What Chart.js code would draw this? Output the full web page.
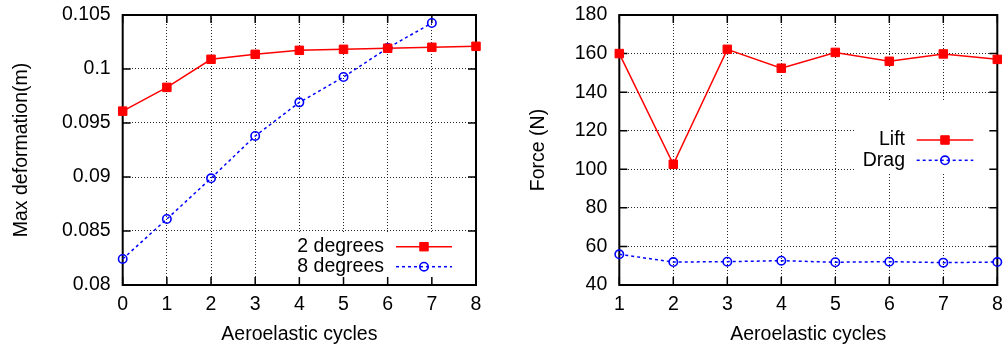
<!DOCTYPE html>
<html><head><meta charset="utf-8">
<script src="https://cdn.jsdelivr.net/npm/chart.js@4"></script>
<style>
html,body{margin:0;padding:0;background:#fff;}
#wrap{position:relative;width:1008px;height:349px;overflow:hidden;}
#c1{position:absolute;left:0;top:0;}
#c2{position:absolute;left:500px;top:0;}
</style></head><body>
<div id="wrap"><canvas id="c1" width="500" height="349"></canvas><canvas id="c2" width="508" height="349"></canvas></div>
<script>
// ---- Left chart data ----
const cyclesL = [0, 1, 2, 3, 4, 5, 6, 7, 8];
const deg2 = [0.0961, 0.0983, 0.1009, 0.10136, 0.10173, 0.10182, 0.10192, 0.10201, 0.1021];
const cycles8 = [0, 1, 2, 3, 4, 5, 6, 7];
const deg8 = [0.08241, 0.08611, 0.08988, 0.0938, 0.09691, 0.09926, 0.10194, 0.10426];
const xTicksL = ['0', '1', '2', '3', '4', '5', '6', '7', '8'];
const yTicksL = ['0.08', '0.085', '0.09', '0.095', '0.1', '0.105'];
const seriesNamesL = ['2 degrees', '8 degrees'];

// ---- Right chart data ----
const cyclesR = [1, 2, 3, 4, 5, 6, 7, 8];
const lift = [160.0, 102.6, 162.2, 152.4, 160.6, 156.0, 159.8, 157.0];
const drag = [55.9, 51.9, 52.1, 52.6, 51.8, 52.1, 51.6, 51.9];
const xTicksR = ['1', '2', '3', '4', '5', '6', '7', '8'];
const yTicksR = ['40', '60', '80', '100', '120', '140', '160', '180'];
const seriesNamesR = ['Lift', 'Drag'];

const FONT = 'Liberation Sans, Arial, Helvetica, sans-serif';
const FS = 19.5;
const RED = '#ff0000', BLUE = '#0000ff';

const pts = (xs, ys) => xs.map((x, i) => ({x: x, y: ys[i]}));

function redSet(label, data) {
  return {label, data, borderColor: RED, backgroundColor: RED, borderWidth: 1.5,
    pointStyle: 'rect', pointRadius: 6, pointBorderWidth: 1, pointBorderColor: RED,
    pointBackgroundColor: RED, tension: 0, clip: false, fill: false};
}
function blueSet(label, data) {
  return {label, data, borderColor: BLUE, backgroundColor: 'rgba(0,0,0,0)', borderWidth: 1.5,
    borderDash: [3, 3], pointStyle: 'circle', pointRadius: 4.2, pointBorderWidth: 1.6,
    pointBorderColor: BLUE, pointBackgroundColor: 'rgba(0,0,0,0)', tension: 0, clip: false, fill: false};
}

const framePlugin = {
  id: 'frame',
  beforeDatasetsDraw(chart, args, opts) {
    const ctx = chart.ctx, a = chart.chartArea;
    const xs = chart.scales.x, ys = chart.scales.y;
    ctx.save();
    const b = opts.box;
    ctx.fillStyle = '#fff';
    ctx.fillRect(b[0], b[1], b[2] - b[0], b[3] - b[1]);
    const L = 8;
    ctx.strokeStyle = '#000';
    ctx.lineWidth = 1.5;
    ctx.beginPath();
    xs.ticks.forEach(t => {
      const px = xs.getPixelForValue(t.value);
      ctx.moveTo(px, a.bottom); ctx.lineTo(px, a.bottom - L);
      ctx.moveTo(px, a.top); ctx.lineTo(px, a.top + L);
    });
    ys.ticks.forEach(t => {
      const py = ys.getPixelForValue(t.value);
      ctx.moveTo(a.left, py); ctx.lineTo(a.left + L, py);
      ctx.moveTo(a.right, py); ctx.lineTo(a.right - L, py);
    });
    ctx.stroke();
    ctx.lineWidth = 2;
    ctx.strokeRect(a.left, a.top, a.right - a.left, a.bottom - a.top);
    ctx.font = FS + 'px ' + FONT;
    ctx.textAlign = 'right';
    ctx.textBaseline = 'middle';
    opts.items.forEach((it, i) => {
      const ds = chart.data.datasets[i];
      ctx.fillStyle = '#000';
      ctx.fillText(ds.label, opts.textRight, it);
      ctx.save();
      ctx.strokeStyle = ds.borderColor;
      ctx.lineWidth = ds.borderWidth;
      ctx.setLineDash(ds.borderDash || []);
      ctx.beginPath();
      ctx.moveTo(opts.lineX1, it); ctx.lineTo(opts.lineX2, it);
      ctx.stroke();
      ctx.restore();
      ctx.save();
      ctx.strokeStyle = ds.pointBorderColor;
      ctx.fillStyle = ds.pointBackgroundColor;
      ctx.lineWidth = ds.pointBorderWidth;
      Chart.helpers.drawPoint(ctx, {pointStyle: ds.pointStyle, radius: ds.pointRadius, rotation: 0, borderWidth: ds.pointBorderWidth}, opts.markerX, it);
      ctx.restore();
    });
    ctx.restore();
  }
};

function makeOptions(cfg) {
  return {
    responsive: false,
    animation: false,
    events: [],
    layout: {padding: {left: 0, top: 15, right: cfg.padRight, bottom: 0}},
    plugins: {
      legend: {display: false},
      tooltip: {enabled: false},
      frame: cfg.frame
    },
    scales: {
      x: {
        type: 'linear', min: cfg.xMin, max: cfg.xMax,
        afterFit: s => { s.height = cfg.fit.xH; s.paddingLeft = 0; s.paddingRight = 0; },
        ticks: {stepSize: 1, padding: 8, color: '#000', font: {family: FONT, size: FS},
          maxRotation: 0, callback: (v, i) => cfg.xLabels[i]},
        grid: {color: 'rgba(0,0,0,0.85)', lineWidth: 1, drawTicks: false},
        border: {display: false, dash: [1, 2]},
        title: {display: true, text: 'Aeroelastic cycles', color: '#000',
          font: {family: FONT, size: FS}, padding: {top: 0, bottom: 2.3}}
      },
      y: {
        type: 'linear', min: cfg.yMin, max: cfg.yMax,
        afterFit: s => { s.width = cfg.fit.yW; s.paddingTop = 0; s.paddingBottom = 0; },
        ticks: {stepSize: cfg.yStep, padding: 12, color: '#000', font: {family: FONT, size: FS},
          callback: (v, i) => cfg.yLabels[i]},
        grid: {color: 'rgba(0,0,0,0.85)', lineWidth: 1, drawTicks: false},
        border: {display: false, dash: [1, 2]},
        title: {display: true, text: cfg.yTitle, color: '#000',
          font: {family: FONT, size: FS}, padding: {top: cfg.yTitlePad, bottom: 0}}
      }
    }
  };
}

function fitArea(chart, cfg, want) {
  for (let k = 0; k < 4; k++) {
    const ca = chart.chartArea;
    const p = chart.options.layout.padding;
    const dT = want.top - ca.top, dB = ca.bottom - want.bottom;
    const dL = want.left - ca.left, dR = ca.right - want.right;
    if (Math.abs(dT) + Math.abs(dB) + Math.abs(dL) + Math.abs(dR) < 0.05) break;
    p.top += dT;
    p.right += dR;
    cfg.fit.xH += dB;
    cfg.fit.yW += dL;
    chart.update();
  }
}

const cfgL = {
  padRight: 24, xMin: 0, xMax: 8, xLabels: xTicksL,
  yMin: 0.08, yMax: 0.105, yStep: 0.005, yLabels: yTicksL,
  yTitle: 'Max deformation(m)', yTitlePad: 9.8, fit: {xH: 64, yW: 122.7},
  frame: {box: [290, 234, 476, 285], items: [246.7, 266.7], textRight: 384, lineX1: 396, lineX2: 452, markerX: 424}
};
const chartL = new Chart(document.getElementById('c1'), {
  type: 'line',
  data: {datasets: [redSet(seriesNamesL[0], pts(cyclesL, deg2)), blueSet(seriesNamesL[1], pts(cycles8, deg8))]},
  options: makeOptions(cfgL),
  plugins: [framePlugin]
});
fitArea(chartL, cfgL, {left: 122.7, top: 15, right: 476, bottom: 285});

const cfgR = {
  padRight: 10.7, xMin: 1, xMax: 8, xLabels: xTicksR,
  yMin: 40, yMax: 180, yStep: 20, yLabels: yTicksR,
  yTitle: 'Force (N)', yTitlePad: 27, fit: {xH: 64, yW: 119.3},
  frame: {box: [355, 100, 497.3, 173], items: [140, 160.3], textRight: 405, lineX1: 416.7, lineX2: 473.3, markerX: 445}
};
const chartR = new Chart(document.getElementById('c2'), {
  type: 'line',
  data: {datasets: [redSet(seriesNamesR[0], pts(cyclesR, lift)), blueSet(seriesNamesR[1], pts(cyclesR, drag))]},
  options: makeOptions(cfgR),
  plugins: [framePlugin]
});
fitArea(chartR, cfgR, {left: 119.3, top: 15, right: 497.3, bottom: 285});
</script>
</body></html>
